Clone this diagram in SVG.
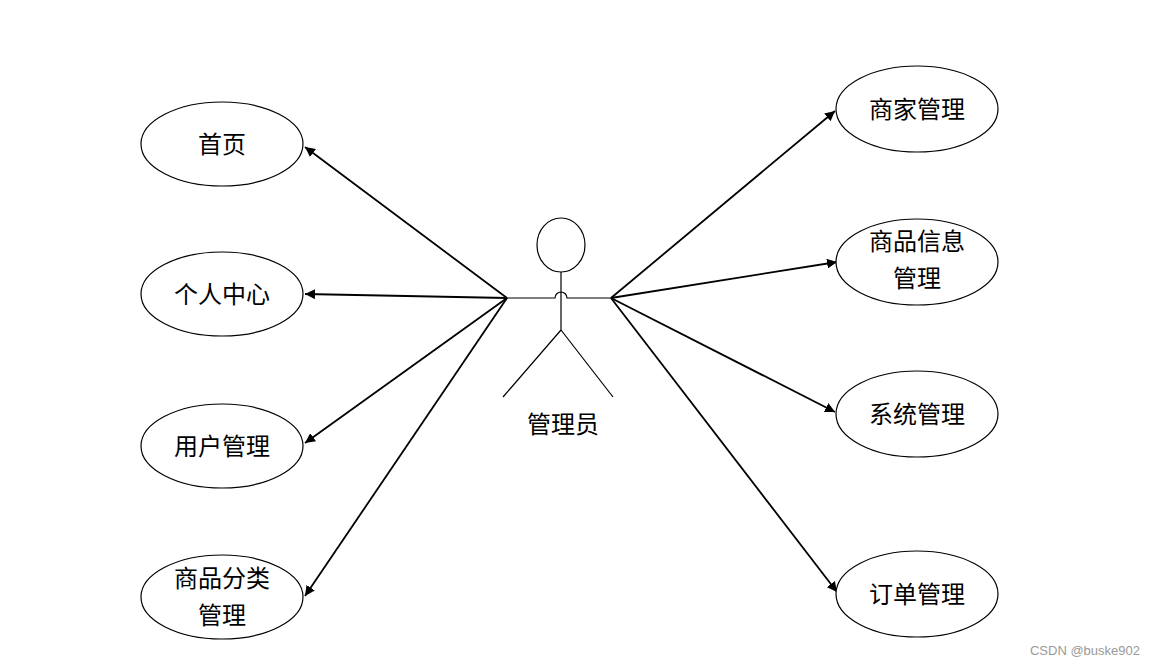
<svg xmlns="http://www.w3.org/2000/svg" width="1155" height="666" viewBox="0 0 1155 666">
<style>
.n ellipse{fill:#fff;stroke:#000;stroke-width:1.2}
.t{font-family:"Noto Sans CJK SC",sans-serif;font-size:24px;fill:#000;text-anchor:middle}
.c line{stroke:#000;stroke-width:1.8;marker-end:url(#a)}
.act{fill:none;stroke:#000;stroke-width:1.2}
</style>
<defs><marker id="a" viewBox="0 0 10 10" refX="10" refY="5" markerWidth="10" markerHeight="10" markerUnits="userSpaceOnUse" orient="auto"><path d="M0,0L10,5L0,10z" fill="#000"/></marker></defs>
<rect width="1155" height="666" fill="#fff"/>
<g id="actor">
<ellipse class="act" cx="561" cy="245" rx="24" ry="27"/>
<path class="act" d="M561,272V330M507,298H555A6,6 0 0 1 567,298H611M561,330L503,397M561,330L613,397"/>
<text class="t" x="563" y="433">管理员</text>
</g>
<g class="c">
<line x1="507" y1="298" x2="305" y2="147"/>
<line x1="507" y1="298" x2="305" y2="294"/>
<line x1="507" y1="298" x2="305" y2="443"/>
<line x1="507" y1="298" x2="305" y2="596"/>
<line x1="611" y1="298" x2="835" y2="111"/>
<line x1="611" y1="298" x2="837" y2="262"/>
<line x1="611" y1="298" x2="835" y2="412"/>
<line x1="611" y1="298" x2="837" y2="592"/>
</g>
<g id="n1" class="n"><ellipse cx="222" cy="144" rx="81" ry="42"/><text class="t" x="222" y="153">首页</text></g>
<g id="n2" class="n"><ellipse cx="222" cy="294" rx="81" ry="42"/><text class="t" x="222" y="303">个人中心</text></g>
<g id="n3" class="n"><ellipse cx="222" cy="446" rx="81" ry="42"/><text class="t" x="222" y="455">用户管理</text></g>
<g id="n4" class="n"><ellipse cx="222" cy="597" rx="81" ry="42"/><text class="t" x="222" y="587">商品分类</text><text class="t" x="222" y="624">管理</text></g>
<g id="n5" class="n"><ellipse cx="917" cy="109" rx="81" ry="43"/><text class="t" x="917" y="118">商家管理</text></g>
<g id="n6" class="n"><ellipse cx="917" cy="262" rx="81" ry="43"/><text class="t" x="917" y="250">商品信息</text><text class="t" x="917" y="287">管理</text></g>
<g id="n7" class="n"><ellipse cx="917" cy="414" rx="81" ry="43"/><text class="t" x="917" y="423">系统管理</text></g>
<g id="n8" class="n"><ellipse cx="917" cy="594" rx="81" ry="43"/><text class="t" x="917" y="603">订单管理</text></g>
<text x="1140" y="655" style="font-family:'Liberation Sans',sans-serif;font-size:13px;fill:#999;text-anchor:end">CSDN @buske902</text>
</svg>
